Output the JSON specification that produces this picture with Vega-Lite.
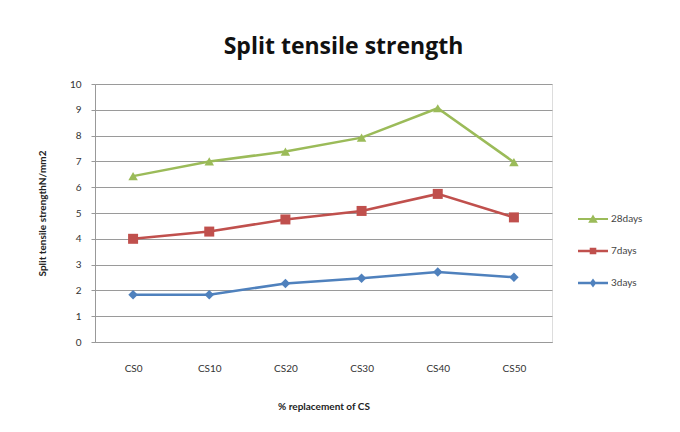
{
  "$schema": "https://vega.github.io/schema/vega-lite/v6.json",
  "autosize": {"type": "none"},
  "width": 457,
  "height": 258,
  "padding": {"left": 95, "top": 84, "right": 128, "bottom": 90},
  "background": "white",
  "title": {
    "text": "Split tensile strength",
    "font": "Open Sans",
    "fontSize": 23,
    "fontWeight": "bold",
    "color": "#111111",
    "anchor": "middle",
    "dx": 20,
    "offset": 20
  },
  "data": {
    "values": [
      {"mix": "CS0", "age": "28days", "strength": 6.43},
      {"mix": "CS10", "age": "28days", "strength": 7.0},
      {"mix": "CS20", "age": "28days", "strength": 7.38},
      {"mix": "CS30", "age": "28days", "strength": 7.92},
      {"mix": "CS40", "age": "28days", "strength": 9.06},
      {"mix": "CS50", "age": "28days", "strength": 6.97},
      {"mix": "CS0", "age": "7days", "strength": 4.0},
      {"mix": "CS10", "age": "7days", "strength": 4.28},
      {"mix": "CS20", "age": "7days", "strength": 4.75},
      {"mix": "CS30", "age": "7days", "strength": 5.08},
      {"mix": "CS40", "age": "7days", "strength": 5.74},
      {"mix": "CS50", "age": "7days", "strength": 4.83},
      {"mix": "CS0", "age": "3days", "strength": 1.83},
      {"mix": "CS10", "age": "3days", "strength": 1.83},
      {"mix": "CS20", "age": "3days", "strength": 2.27},
      {"mix": "CS30", "age": "3days", "strength": 2.47},
      {"mix": "CS40", "age": "3days", "strength": 2.71},
      {"mix": "CS50", "age": "3days", "strength": 2.51}
    ]
  },
  "encoding": {
    "x": {
      "field": "mix",
      "type": "nominal",
      "sort": ["CS0", "CS10", "CS20", "CS30", "CS40", "CS50"],
      "scale": {"paddingInner": 0, "paddingOuter": 0.5},
      "axis": {
        "title": "% replacement of CS",
        "titleFont": "Lato",
        "titleFontSize": 10,
        "titleFontWeight": "bold",
        "titleColor": "#222222",
        "titlePadding": 28,
        "labelFont": "Lato",
        "labelFontSize": 10,
        "labelColor": "#333333",
        "labelAngle": 0,
        "labelPadding": 21,
        "domainColor": "#999999",
        "ticks": false,
        "grid": false
      }
    },
    "y": {
      "field": "strength",
      "type": "quantitative",
      "scale": {"domain": [0, 10], "nice": false},
      "axis": {
        "title": "Split tensile strengthN/mm2",
        "titleFont": "Lato",
        "titleFontSize": 10,
        "titleFontWeight": "bold",
        "titleColor": "#222222",
        "titlePadding": 22,
        "labelFont": "Lato",
        "labelFontSize": 10,
        "labelColor": "#333333",
        "labelPadding": 10,
        "labelOverlap": false,
        "values": [0, 1, 2, 3, 4, 5, 6, 7, 8, 9, 10],
        "tickColor": "#999999",
        "tickSize": 4,
        "domainColor": "#999999",
        "grid": true,
        "gridColor": "#9a9a9a",
        "gridWidth": 1
      }
    },
    "color": {
      "field": "age",
      "type": "nominal",
      "sort": ["28days", "7days", "3days"],
      "scale": {"domain": ["28days", "7days", "3days"], "range": ["#9BBB59", "#C0504D", "#4F81BD"]},
      "legend": {
        "title": null,
        "orient": "none",
        "legendX": 483,
        "legendY": 120,
        "labelFont": "Lato",
        "labelFontSize": 10,
        "labelColor": "#444444",
        "labelOffset": 3,
        "rowPadding": 12,
        "symbolSize": 900,
        "symbolStrokeWidth": 0,
        "encode": {
          "symbols": {
            "update": {
              "shape": {
                "signal": "datum.value === '28days' ? 'M-1,-0.07H1V0.07H-1Z M0,-0.3L0.32,0.25H-0.32Z' : datum.value === '7days' ? 'M-1,-0.08H1V0.08H-1Z M-0.22,-0.22H0.22V0.22H-0.22Z' : 'M-1,-0.08H1V0.08H-1Z M0,-0.3L0.22,0L0,0.3L-0.22,0Z'"
              }
            }
          }
        }
      }
    }
  },
  "layer": [
    {"mark": {"type": "line", "strokeWidth": 2.5}},
    {
      "transform": [{"filter": "datum.age === '28days'"}],
      "mark": {"type": "point", "shape": "triangle-up", "filled": true, "size": 90, "opacity": 1}
    },
    {
      "transform": [{"filter": "datum.age === '7days'"}],
      "mark": {"type": "point", "shape": "square", "filled": true, "size": 100, "opacity": 1}
    },
    {
      "transform": [{"filter": "datum.age === '3days'"}],
      "mark": {"type": "point", "shape": "diamond", "filled": true, "size": 90, "opacity": 1}
    }
  ]
}
